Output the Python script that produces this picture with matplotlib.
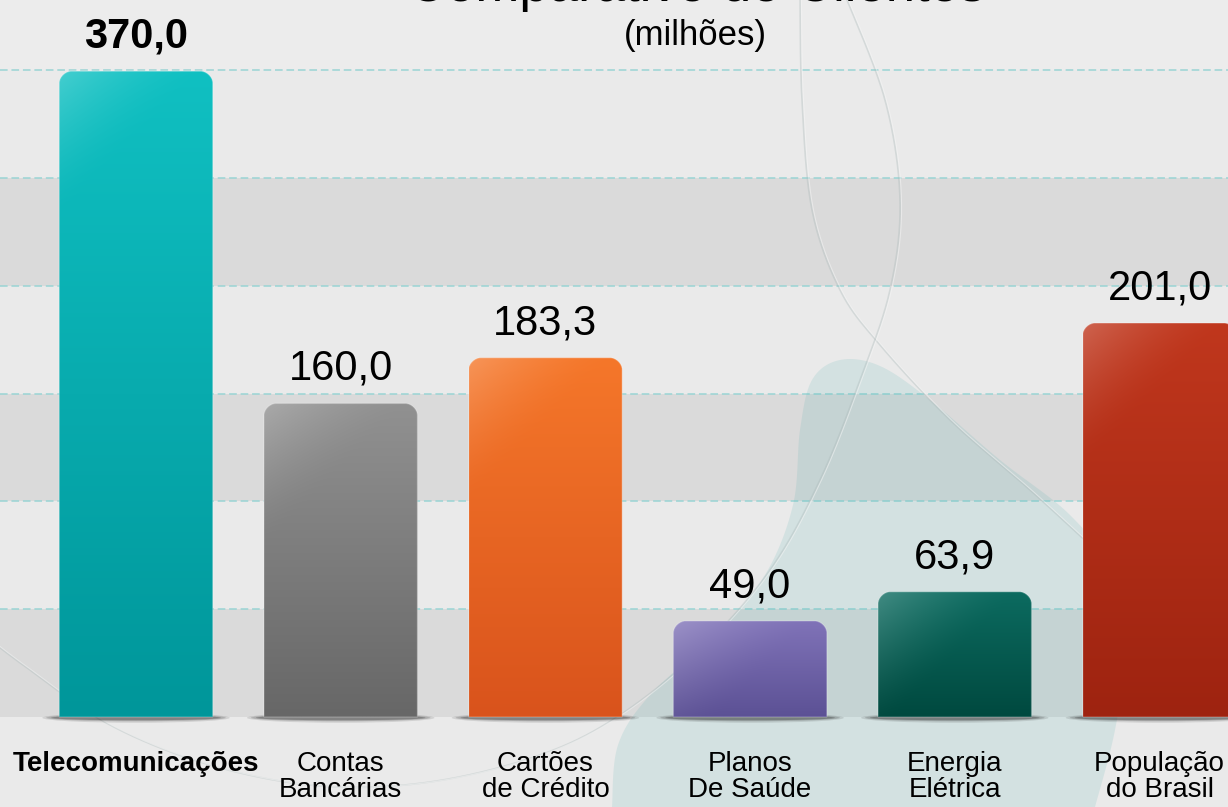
import numpy as np
import matplotlib
matplotlib.use('Agg')
import matplotlib.pyplot as plt
from matplotlib.path import Path
from matplotlib.patches import PathPatch, Ellipse, Polygon
from matplotlib import transforms
from matplotlib.colors import to_rgb

plt.rcParams['font.family'] = ['Liberation Sans', 'DejaVu Sans']

# dados
titulo = 'Comparativo de Clientes'
subtitulo = '(milhões)'
categorias = ['Telecomunicações', 'Contas\nBancárias', 'Cartões\nde Crédito',
              'Planos\nDe Saúde', 'Energia\nElétrica', 'População\ndo Brasil']
valores = [370.0, 160.0, 183.3, 49.0, 63.9, 201.0]
cor_topo = ['#10c0c2', '#919191', '#f5772a', '#8073b8', '#0c6b60', '#c0371d']
cor_base = ['#00969a', '#676767', '#d9531c', '#5c5195', '#00493f', '#9e2310']
grade = [55, 110, 165, 220, 275, 330]
faixas = [(0, 55), (110, 165), (220, 275)]
topo_eixo = 330  # barra maior fica cortada na ultima linha

W, H = 1228, 807
SX, SY = 204.7, 1.96        # pixels por unidade
X0, BASE = 136, 717         # centro da 1a barra e linha de base (px)
LARG = 0.75


def dx(px):
    return (px - X0) / SX


def dy(py):
    return (BASE - py) / SY


def suave(pts, n=20):
    p = np.array(pts, float)
    p = np.vstack([p[0], p, p[-1]])
    out = []
    t = np.linspace(0, 1, n, endpoint=False)[:, None]
    for i in range(1, len(p) - 2):
        p0, p1, p2, p3 = p[i - 1], p[i], p[i + 1], p[i + 2]
        out.append(0.5 * (2 * p1 + (-p0 + p2) * t + (2 * p0 - 5 * p1 + 4 * p2 - p3) * t ** 2
                          + (-p0 + 3 * p1 - 3 * p2 + p3) * t ** 3))
    out.append(p[-2][None])
    return np.vstack(out)


def barra_path(x0, x1, h, rx, ry):
    k = 0.45
    verts = [(x0, 0), (x0, h - ry), (x0, h - ry * k), (x0 + rx * (1 - k), h), (x0 + rx, h),
             (x1 - rx, h), (x1 - rx * (1 - k), h), (x1, h - ry * k), (x1, h - ry),
             (x1, 0), (x0, 0)]
    codes = [Path.MOVETO, Path.LINETO, Path.CURVE4, Path.CURVE4, Path.CURVE4,
             Path.LINETO, Path.CURVE4, Path.CURVE4, Path.CURVE4, Path.LINETO, Path.CLOSEPOLY]
    return Path(verts, codes)


fig = plt.figure(figsize=(W / 100, H / 100), dpi=100, facecolor='#eaeaea')
ax = fig.add_axes([0, 0, 1, 1])
ax.axis('off')
pxT = transforms.Affine2D().scale(1 / W, -1 / H).translate(0, 1) + ax.transAxes

# faixas e linhas de grade
for a, b in faixas:
    ax.axhspan(a, b, color='#dadada', zorder=0, lw=0)
ax.axhspan(grade[-1], dy(0), color='#ececec', zorder=0, lw=0)
for g in grade:
    ax.axhline(g, color='#9ad4d4', lw=1.1, ls=(0, (5, 2.5)), zorder=1)

# enfeites do fundo
mancha = [(612, 807), (618, 745), (650, 695), (715, 635), (765, 575), (793, 505),
          (800, 430), (812, 380), (840, 360), (880, 366), (930, 400), (1000, 460),
          (1070, 515), (1110, 570), (1125, 650), (1115, 730), (1095, 807)]
m = suave(mancha)
m = np.vstack([m, [(1095, 830), (612, 830)]])
ax.add_patch(Polygon(m, closed=True, transform=pxT, facecolor='#3ca7a7', alpha=0.13,
                     lw=0, zorder=1.5))
arcoA = [(800, -5), (802, 100), (812, 210), (840, 290), (880, 345), (950, 420),
         (1030, 490), (1090, 545)]
arcoB = [(845, -5), (885, 100), (900, 200), (890, 290), (860, 380), (820, 480),
         (770, 570), (700, 650), (620, 715), (540, 755), (430, 782), (320, 786),
         (210, 765), (110, 725), (30, 670), (-10, 640)]
for arco in (arcoA, arcoB):
    c = suave(arco)
    ax.plot(c[:, 0], c[:, 1], transform=pxT, color='#aab8b8', lw=1.2, alpha=0.35, zorder=1.6)
    ax.plot(c[:, 0] + 1.5, c[:, 1], transform=pxT, color='#f6f6f6', lw=0.8, alpha=0.5, zorder=1.6)

# barras
rx, ry = 12 / SX, 12 / SY
for i, v in enumerate(valores):
    h = min(v, topo_eixo - 0.5)
    x0, x1 = i - LARG / 2, i + LARG / 2
    for larg_extra, alt, alfa in [(34, 10, 0.12), (26, 7, 0.2), (16, 5, 0.3)]:
        ax.add_patch(Ellipse((i, -0.4), LARG + larg_extra / SX, alt / SY, color='#202020',
                             alpha=alfa, lw=0, zorder=2.5))
    contorno = PathPatch(barra_path(x0, x1, h, rx, ry), facecolor='none',
                         edgecolor=(1, 1, 1, 0.22), lw=1.0, zorder=3.1)
    ax.add_patch(contorno)
    hp = max(int(h * SY), 2)
    wp = int(LARG * SX)
    t = np.linspace(0, 1, hp)[:, None, None]
    u = np.linspace(0, wp, 80)[None, :, None]
    topo, base = np.array(to_rgb(cor_topo[i])), np.array(to_rgb(cor_base[i]))
    cor = topo * (1 - t) + base * t
    brilho = np.clip(1 - (u + t * hp) / 140, 0, 1) ** 1.5 * 0.22
    cor = cor + (1 - cor) * brilho
    im = ax.imshow(np.clip(cor, 0, 1), extent=[x0, x1, 0, h], origin='upper',
                   aspect='auto', interpolation='bilinear', zorder=3)
    im.set_clip_path(contorno)

    texto = f'{v:.1f}'.replace('.', ',')
    ax.annotate(texto, (i, h), xytext=(0, 17), textcoords='offset points',
                ha='center', va='baseline', fontsize=30,
                fontweight='bold' if i == 0 else 'normal', zorder=5)
    ax.text(i, dy(751), categorias[i], ha='center', va='top', fontsize=20,
            linespacing=1.02, fontweight='bold' if i == 0 else 'normal', zorder=5)

ax.text(dx(697), dy(1), titulo, ha='center', va='baseline', fontsize=38, zorder=5)
ax.text(dx(695), dy(35), subtitulo, ha='center', va='center', fontsize=25, zorder=5)

ax.set_xlim(dx(0), dx(W))
ax.set_ylim(dy(H), dy(0))

fig.savefig('out.png', dpi=100, facecolor=fig.get_facecolor())
